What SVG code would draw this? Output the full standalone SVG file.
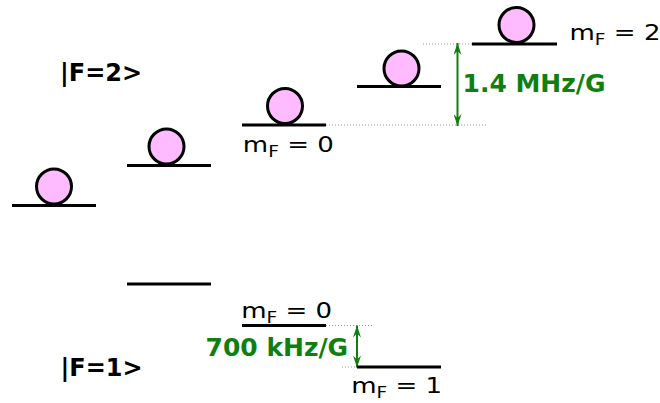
<svg xmlns="http://www.w3.org/2000/svg" width="660" height="403" viewBox="0 0 660 403">
<style>
.lvl{stroke:#000;stroke-width:3;fill:none}
.atom{fill:#ffbbff;stroke:#000;stroke-width:3}
.dot{stroke:#999;stroke-width:1;stroke-dasharray:1,2;fill:none}
.arr{stroke:#0f7f0f;stroke-width:2;fill:none;marker-start:url(#ah);marker-end:url(#ah)}
.big{font-family:"DejaVu Sans",Verdana,sans-serif;font-weight:bold;font-size:24px;fill:#000}
.grn{font-family:"DejaVu Sans",Verdana,sans-serif;font-weight:bold;font-size:25px;fill:#0f7f0f}
.lbl{font-family:"DejaVu Sans",Verdana,sans-serif;font-size:21px;fill:#000}
.sub{font-size:15px}
</style>
<defs>
<marker id="ah" viewBox="0 0 12 8" refX="12" refY="4" markerWidth="12" markerHeight="8" markerUnits="userSpaceOnUse" orient="auto-start-reverse">
<path d="M0,0 L12,4 L0,8 L4,4 z" fill="#0f7f0f"/>
</marker>
</defs>
<g id="connectors">
<line class="dot" x1="423" y1="44" x2="472" y2="44"/>
<line class="dot" x1="326" y1="125" x2="488" y2="125"/>
<line class="dot" x1="326" y1="325.5" x2="372" y2="325.5"/>
<line class="dot" x1="342" y1="367" x2="390" y2="367"/>
<line class="arr" x1="457.5" y1="43" x2="457.5" y2="126"/>
<line class="arr" x1="357" y1="325.5" x2="357" y2="367.5"/>
</g>
<g id="f2-level1"><line class="lvl" x1="12" y1="205.5" x2="96" y2="205.5"/><circle class="atom" cx="54" cy="186.5" r="17.5"/></g>
<g id="f2-level2"><line class="lvl" x1="127" y1="165.5" x2="211" y2="165.5"/><circle class="atom" cx="166.5" cy="146.5" r="17.5"/></g>
<g id="f2-level3"><line class="lvl" x1="242" y1="125" x2="326" y2="125"/><circle class="atom" cx="285" cy="106" r="17.5"/></g>
<g id="f2-level4"><line class="lvl" x1="357" y1="86.5" x2="441" y2="86.5"/><circle class="atom" cx="401.5" cy="68.5" r="17.5"/></g>
<g id="f2-level5"><line class="lvl" x1="472" y1="44" x2="557" y2="44"/><circle class="atom" cx="516.5" cy="25" r="17.5"/></g>
<g id="f1-level1"><line class="lvl" x1="127" y1="284" x2="211" y2="284"/></g>
<g id="f1-level2"><line class="lvl" x1="242" y1="325.5" x2="326" y2="325.5"/></g>
<g id="f1-level3"><line class="lvl" x1="357" y1="367" x2="441" y2="367"/></g>
<g id="labels">
<text class="big" x="60" y="81">|F=2&gt;</text>
<text class="big" x="60.5" y="376">|F=1&gt;</text>
<text class="grn" x="462.5" y="92">1.4 MHz/G</text>
<text class="grn" x="205.5" y="355.5">700 kHz/G</text>
<text class="lbl" transform="translate(242.8,152) scale(1.24,1)">m<tspan class="sub" dy="5">F</tspan><tspan dy="-5"> = 0</tspan></text>
<text class="lbl" transform="translate(569.5,40) scale(1.24,1)">m<tspan class="sub" dy="5">F</tspan><tspan dy="-5"> = 2</tspan></text>
<text class="lbl" transform="translate(241.2,317.5) scale(1.24,1)">m<tspan class="sub" dy="5">F</tspan><tspan dy="-5"> = 0</tspan></text>
<text class="lbl" transform="translate(351.2,393) scale(1.24,1)">m<tspan class="sub" dy="5">F</tspan><tspan dy="-5"> = 1</tspan></text>
</g>
</svg>
